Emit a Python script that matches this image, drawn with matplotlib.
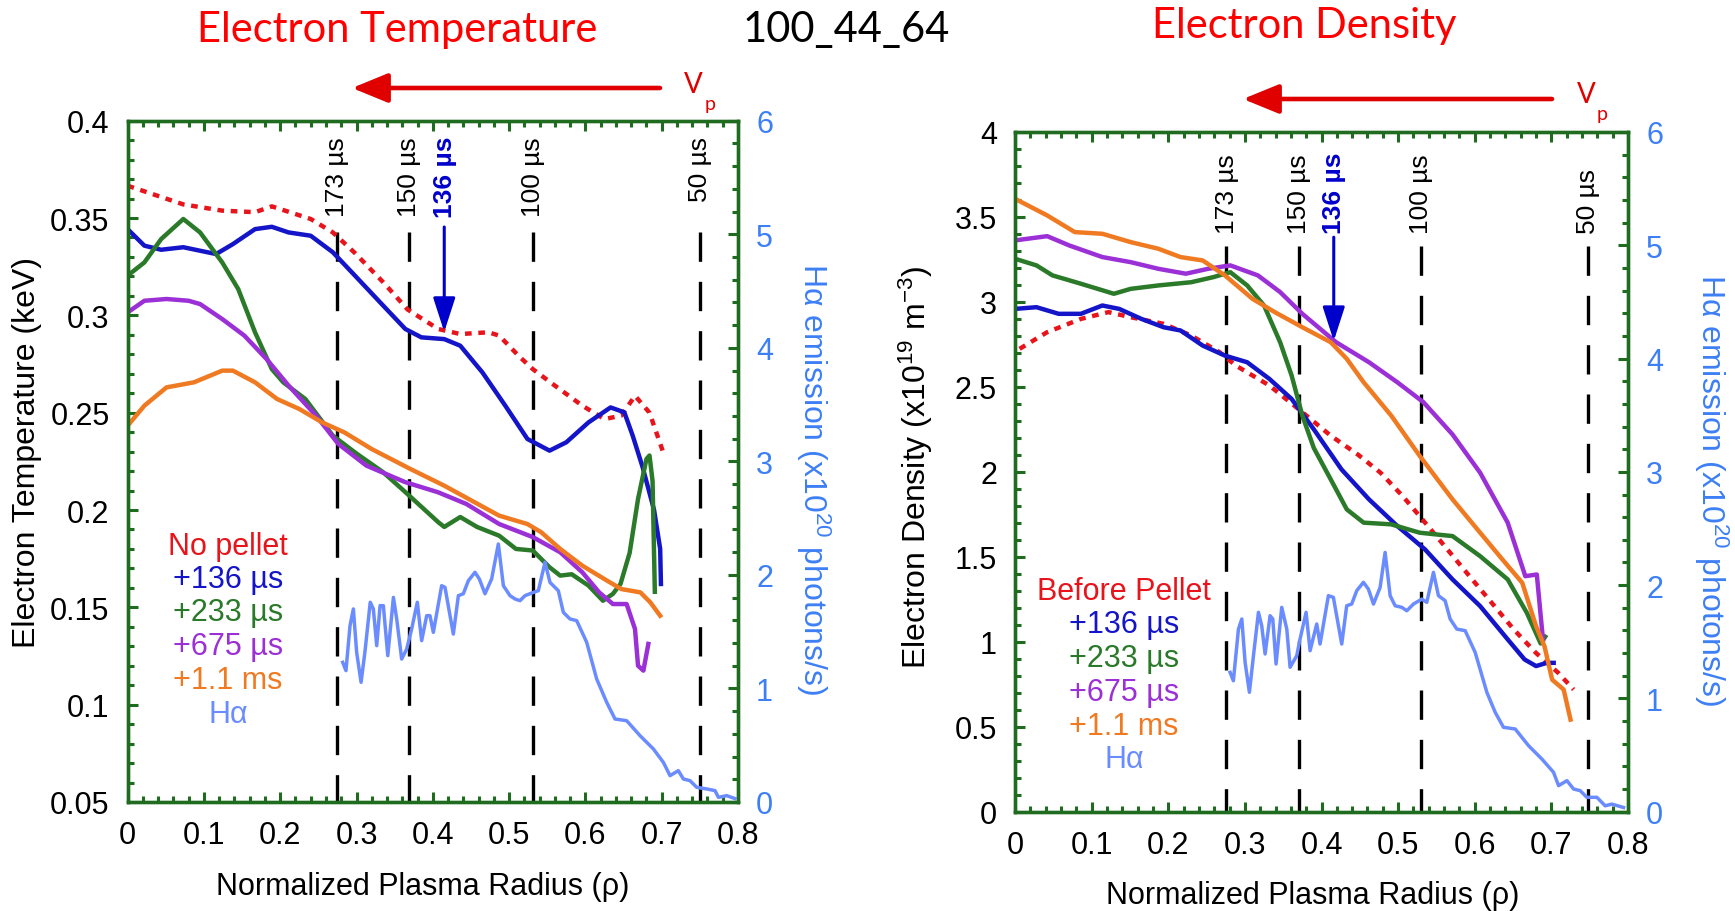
import matplotlib
matplotlib.use("Agg")
import matplotlib.pyplot as plt
from matplotlib.ticker import MultipleLocator

plt.rcParams['font.family'] = ['Liberation Sans', 'DejaVu Sans']
plt.rcParams['mathtext.fontset'] = 'custom'
plt.rcParams['mathtext.rm'] = 'Liberation Sans'
plt.rcParams['mathtext.it'] = 'Liberation Sans:italic'

# ---------------- data : left panel (electron temperature, keV) ----------------
te_nopellet_rho = [0, 0.073, 0.124, 0.167, 0.189, 0.24, 0.269, 0.298, 0.335, 0.367, 0.407, 0.436,
                   0.473, 0.487, 0.513, 0.531, 0.56, 0.596, 0.625, 0.647, 0.665, 0.684, 0.702]
te_nopellet = [0.3666, 0.357, 0.3538, 0.353, 0.356, 0.3495, 0.3426, 0.332, 0.317, 0.303, 0.293, 0.2904,
               0.2913, 0.2896, 0.279, 0.2724, 0.2639, 0.2536, 0.2467, 0.2485, 0.2587, 0.250, 0.2296]

te_136_rho = [0, 0.022, 0.044, 0.073, 0.095, 0.116, 0.138, 0.167, 0.189, 0.211, 0.24, 0.269, 0.298,
              0.335, 0.364, 0.385, 0.415, 0.436, 0.465, 0.495, 0.524, 0.553, 0.575, 0.604, 0.633,
              0.651, 0.662, 0.675, 0.69, 0.698, 0.699]
te_136 = [0.3443, 0.3358, 0.3337, 0.335, 0.3332, 0.3315, 0.3366, 0.3443, 0.3455, 0.3426, 0.3409, 0.3324,
          0.3204, 0.305, 0.293, 0.2887, 0.2878, 0.2844, 0.2707, 0.2536, 0.2365, 0.2305, 0.2348, 0.245,
          0.2527, 0.2502, 0.2382, 0.222, 0.200, 0.18, 0.162]

te_233_rho = [0, 0.022, 0.044, 0.073, 0.095, 0.124, 0.145, 0.167, 0.189, 0.204, 0.233, 0.269, 0.3,
              0.335, 0.364, 0.407, 0.415, 0.436, 0.458, 0.487, 0.509, 0.531, 0.553, 0.567, 0.582,
              0.604, 0.623, 0.636, 0.646, 0.658, 0.669, 0.68, 0.684, 0.688, 0.691]
te_233 = [0.3204, 0.3272, 0.3392, 0.3495, 0.3426, 0.3272, 0.3135, 0.2913, 0.2724, 0.2656, 0.257, 0.2382,
          0.229, 0.2194, 0.2092, 0.1938, 0.1913, 0.1964, 0.1913, 0.1868, 0.18, 0.1792, 0.1706, 0.1663,
          0.167, 0.1612, 0.1534, 0.1569, 0.162, 0.178, 0.2057, 0.2262, 0.228, 0.215, 0.158]

te_675_rho = [0, 0.022, 0.051, 0.08, 0.095, 0.124, 0.153, 0.182, 0.211, 0.247, 0.276, 0.313, 0.364,
              0.407, 0.444, 0.487, 0.531, 0.567, 0.596, 0.618, 0.636, 0.654, 0.665, 0.669, 0.676, 0.6825]
te_675 = [0.3015, 0.3075, 0.3084, 0.3075, 0.3058, 0.2981, 0.2896, 0.2776, 0.2639, 0.2485, 0.234, 0.2228,
          0.2143, 0.2091, 0.2031, 0.1928, 0.1861, 0.1783, 0.168, 0.1577, 0.1517, 0.1517, 0.1389,
          0.12, 0.1175, 0.1312]

te_11ms_rho = [0, 0.022, 0.051, 0.087, 0.124, 0.138, 0.167, 0.196, 0.225, 0.255, 0.284, 0.32, 0.371,
               0.415, 0.451, 0.487, 0.524, 0.542, 0.567, 0.596, 0.625, 0.647, 0.672, 0.685, 0.698]
te_11ms = [0.2433, 0.2536, 0.263, 0.2656, 0.2716, 0.2716, 0.2656, 0.257, 0.2519, 0.245, 0.2399, 0.2313,
           0.221, 0.2125, 0.2048, 0.1971, 0.1928, 0.1886, 0.18, 0.1714, 0.1645, 0.1594, 0.1577,
           0.1526, 0.1457]

ha_te_rho = [0.2819, 0.2862, 0.2915, 0.2959, 0.3002, 0.306, 0.311, 0.318, 0.3221, 0.3265, 0.3309,
             0.3352, 0.341, 0.3484, 0.3527, 0.3592, 0.3658, 0.3723, 0.3797, 0.3854, 0.392, 0.3963,
             0.4007, 0.4116, 0.416, 0.4269, 0.4335, 0.44, 0.4466, 0.4553, 0.461, 0.4684, 0.4771,
             0.4859, 0.4925, 0.5012, 0.5077, 0.5143, 0.5208, 0.5318, 0.5383, 0.5471, 0.5536, 0.5645,
             0.5711, 0.5798, 0.5886, 0.6017, 0.6148, 0.6279, 0.6388, 0.6541, 0.6716, 0.6891, 0.7022,
             0.7109, 0.7218, 0.7284, 0.7371, 0.7459, 0.759, 0.7699, 0.7743, 0.7852, 0.796]
ha_te = [1.230, 1.157, 1.553, 1.70, 1.318, 1.054, 1.318, 1.759, 1.70, 1.377, 1.729, 1.729, 1.289,
         1.802, 1.612, 1.259, 1.347, 1.524, 1.759, 1.421, 1.641, 1.641, 1.494, 1.905, 1.890, 1.479,
         1.817, 1.834, 1.949, 2.023, 1.964, 1.834, 1.964, 2.272, 1.905, 1.817, 1.788, 1.773, 1.817,
         1.846, 1.861, 2.111, 1.934, 1.861, 1.670, 1.612, 1.597, 1.406, 1.083, 0.878, 0.731, 0.716,
         0.584, 0.467, 0.349, 0.232, 0.276, 0.203, 0.188, 0.129, 0.115, 0.100, 0.041, 0.056, 0.030]

# ---------------- data : right panel (electron density, 1e19 m^-3) ----------------
ne_before_rho = [0.006, 0.042, 0.086, 0.122, 0.151, 0.194, 0.23, 0.267, 0.288, 0.332, 0.375, 0.412,
                 0.448, 0.477, 0.506, 0.528, 0.557, 0.593, 0.622, 0.651, 0.68, 0.709, 0.729]
ne_before = [2.724, 2.822, 2.9, 2.94, 2.91, 2.871, 2.802, 2.704, 2.626, 2.508, 2.351, 2.213,
             2.1, 1.995, 1.857, 1.74, 1.583, 1.387, 1.23, 1.072, 0.934, 0.817, 0.719]

ne_136_rho = [0, 0.028, 0.057, 0.086, 0.114, 0.136, 0.165, 0.194, 0.216, 0.245, 0.274, 0.303, 0.332,
              0.361, 0.39, 0.426, 0.462, 0.499, 0.535, 0.571, 0.607, 0.643, 0.665, 0.68, 0.694, 0.703]
ne_136 = [2.959, 2.969, 2.93, 2.93, 2.979, 2.959, 2.9, 2.851, 2.832, 2.743, 2.684, 2.645, 2.547,
          2.429, 2.25, 2.015, 1.838, 1.681, 1.544, 1.367, 1.21, 1.014, 0.896, 0.857, 0.876, 0.876]

ne_233_rho = [0, 0.028, 0.049, 0.086, 0.129, 0.151, 0.187, 0.23, 0.259, 0.281, 0.303, 0.325, 0.346,
              0.361, 0.375, 0.39, 0.412, 0.433, 0.455, 0.491, 0.528, 0.549, 0.571, 0.607, 0.643,
              0.668, 0.686, 0.692]
ne_233 = [3.254, 3.215, 3.156, 3.107, 3.048, 3.077, 3.097, 3.116, 3.146, 3.175, 3.097, 2.979, 2.763,
          2.567, 2.331, 2.14, 1.956, 1.779, 1.701, 1.691, 1.642, 1.632, 1.622, 1.504, 1.367,
          1.170, 0.99, 1.03]

ne_675_rho = [0, 0.042, 0.071, 0.114, 0.151, 0.187, 0.223, 0.252, 0.281, 0.317, 0.346, 0.375, 0.419,
              0.462, 0.499, 0.533, 0.571, 0.607, 0.643, 0.666, 0.681, 0.689]
ne_675 = [3.362, 3.387, 3.332, 3.264, 3.234, 3.195, 3.166, 3.195, 3.215, 3.156, 3.058, 2.93, 2.763,
          2.645, 2.527, 2.41, 2.22, 1.995, 1.701, 1.386, 1.396, 1.013]

ne_11ms_rho = [0, 0.042, 0.078, 0.114, 0.151, 0.187, 0.216, 0.245, 0.274, 0.31, 0.339, 0.375, 0.412,
               0.433, 0.455, 0.491, 0.528, 0.571, 0.607, 0.636, 0.662, 0.68, 0.691, 0.701, 0.716,
               0.725]
ne_11ms = [3.607, 3.509, 3.411, 3.401, 3.352, 3.313, 3.264, 3.244, 3.156, 3.018, 2.94, 2.851, 2.763,
           2.665, 2.527, 2.331, 2.095, 1.838, 1.642, 1.485, 1.347, 1.092, 0.974, 0.777, 0.719,
           0.542]

ha_ne_rho = [0.2807, 0.285, 0.2916, 0.296, 0.3003, 0.3059, 0.3112, 0.3177, 0.322, 0.3264, 0.3329,
             0.3364, 0.3407, 0.3481, 0.3547, 0.359, 0.3677, 0.372, 0.3799, 0.3851, 0.3938, 0.3981,
             0.409, 0.4155, 0.4264, 0.4329, 0.4394, 0.446, 0.4547, 0.4612, 0.4678, 0.4765, 0.483,
             0.4896, 0.4961, 0.5048, 0.5113, 0.52, 0.5309, 0.5374, 0.5461, 0.5526, 0.5613, 0.5679,
             0.5766, 0.5875, 0.6005, 0.6158, 0.6267, 0.6375, 0.6528, 0.6702, 0.6876, 0.7028, 0.7094,
             0.7203, 0.729, 0.7376, 0.7463, 0.7594, 0.7702, 0.7789, 0.7942]
ha_ne = [1.230, 1.156, 1.612, 1.701, 1.318, 1.054, 1.377, 1.760, 1.641, 1.392, 1.730, 1.701, 1.304,
         1.804, 1.612, 1.275, 1.377, 1.524, 1.760, 1.421, 1.657, 1.480, 1.907, 1.892, 1.480, 1.818,
         1.833, 1.951, 2.025, 1.965, 1.833, 1.980, 2.289, 1.907, 1.818, 1.804, 1.774, 1.833, 1.877,
         1.848, 2.113, 1.907, 1.863, 1.701, 1.612, 1.598, 1.407, 1.054, 0.877, 0.745, 0.730, 0.583,
         0.465, 0.348, 0.230, 0.274, 0.200, 0.186, 0.127, 0.127, 0.052, 0.067, 0.037]

# pellet-position markers (time labels and radii)
marker_labels = ['173 µs', '150 µs', '100 µs', '50 µs']
marker_rho_te = [0.275, 0.369, 0.531, 0.750]
marker_rho_ne = [0.276, 0.370, 0.530, 0.748]
arrow_label = '136 µs'
arrow_rho_te, arrow_te = 0.415, 0.2915
arrow_rho_ne, arrow_ne = 0.416, 2.77

series_names_te = ['No pellet', '+136 µs', '+233 µs', '+675 µs', '+1.1 ms', 'Hα']
series_names_ne = ['Before Pellet', '+136 µs', '+233 µs', '+675 µs', '+1.1 ms', 'Hα']

# ---------------- style ----------------
W, H = 1735, 912
C_RED = '#e8141b'
C_BLUE = '#1414c8'
C_GREEN = '#2a7a2a'
C_PURPLE = '#9b30d6'
C_ORANGE = '#f07a22'
C_HA = '#6b8cff'
C_HATXT = '#3d7ff5'
C_SPINE = '#1f6b1f'
LW = 3.2

def fx(x):
    return x / W

def fy(y):
    return 1 - y / H

fig = plt.figure(figsize=(W / 100, H / 100), dpi=100)

def setup_axes(rect, ylim, ymaj, ymin):
    ax = fig.add_axes(rect)
    ax.set_xlim(0, 0.8)
    ax.set_ylim(*ylim)
    ax.xaxis.set_major_locator(MultipleLocator(0.1))
    ax.xaxis.set_minor_locator(MultipleLocator(0.02))
    ax.yaxis.set_major_locator(MultipleLocator(ymaj))
    ax.yaxis.set_minor_locator(MultipleLocator(ymin))
    ax.tick_params(which='both', direction='in', top=True, right=False, color=C_SPINE, width=2.2)
    ax.tick_params(which='major', length=7, labelsize=22, pad=13)
    ax.tick_params(which='minor', length=4)
    ax2 = ax.twinx()
    ax2.set_ylim(0, 6)
    ax2.yaxis.set_major_locator(MultipleLocator(1))
    ax2.yaxis.set_minor_locator(MultipleLocator(0.2))
    ax2.tick_params(which='both', direction='in', color=C_SPINE, width=2.2, labelcolor=C_HATXT)
    ax2.tick_params(which='major', length=7, labelsize=22, pad=13)
    ax2.tick_params(which='minor', length=4)
    for a in (ax, ax2):
        for s in a.spines.values():
            s.set_color(C_SPINE)
            s.set_linewidth(2.4)
    return ax, ax2

def fmt(v, pos):
    return ('%.2f' % v).rstrip('0').rstrip('.')

# ---------------- left panel ----------------
axL, axL2 = setup_axes([fx(127.6), 1 - 803 / H, 610.4 / W, 681.3 / H], (0.05, 0.4), 0.05, 0.01)
axL.xaxis.set_major_formatter(plt.FuncFormatter(fmt))
axL.yaxis.set_major_formatter(plt.FuncFormatter(fmt))

for r in marker_rho_te:
    axL.plot([r, r], [0.343, 0.05], color='black', lw=2.4, ls=(0, (8.8, 6)), zorder=1)
axL.plot(te_nopellet_rho, te_nopellet, color=C_RED, lw=LW, ls=(0, (1.5, 1.5)), zorder=3)
axL.plot(te_136_rho, te_136, color=C_BLUE, lw=LW, zorder=3)
axL.plot(te_233_rho, te_233, color=C_GREEN, lw=LW, zorder=3)
axL.plot(te_675_rho, te_675, color=C_PURPLE, lw=LW, zorder=3)
axL.plot(te_11ms_rho, te_11ms, color=C_ORANGE, lw=LW, zorder=3)
axL2.plot(ha_te_rho, ha_te, color=C_HA, lw=2.5)
axL.annotate('', xy=(arrow_rho_te, arrow_te), xytext=(arrow_rho_te, 0.3454),
             arrowprops=dict(arrowstyle='-|>,head_length=1.05,head_width=0.34', color='#0000cc',
                             lw=2.2, shrinkA=0, shrinkB=0, mutation_scale=20), zorder=4)

# ---------------- right panel ----------------
axR, axR2 = setup_axes([fx(1015), 1 - 812.7 / H, 613 / W, 679.7 / H], (0, 4), 0.5, 0.1)
axR.xaxis.set_major_formatter(plt.FuncFormatter(fmt))
axR.yaxis.set_major_formatter(plt.FuncFormatter(fmt))

for r in marker_rho_ne:
    axR.plot([r, r], [3.33, 0.0], color='black', lw=2.4, ls=(0, (8.8, 6)), zorder=1)
axR.plot(ne_before_rho, ne_before, color=C_RED, lw=LW, ls=(0, (1.5, 1.5)), zorder=3)
axR.plot(ne_136_rho, ne_136, color=C_BLUE, lw=LW, zorder=3)
axR.plot(ne_233_rho, ne_233, color=C_GREEN, lw=LW, zorder=3)
axR.plot(ne_675_rho, ne_675, color=C_PURPLE, lw=LW, zorder=3)
axR.plot(ne_11ms_rho, ne_11ms, color=C_ORANGE, lw=LW, zorder=3)
axR2.plot(ha_ne_rho, ha_ne, color=C_HA, lw=2.5)
axR.annotate('', xy=(arrow_rho_ne, arrow_ne), xytext=(arrow_rho_ne, 3.381),
             arrowprops=dict(arrowstyle='-|>,head_length=1.05,head_width=0.34', color='#0000cc',
                             lw=2.2, shrinkA=0, shrinkB=0, mutation_scale=20), zorder=4)

# ---------------- marker labels ----------------
tr = fig.transFigure
left_label_x = [337, 409, 532.6, 700]
for lab, x in zip(marker_labels, left_label_x):
    fig.text(fx(x), fy(137), lab, rotation=90, ha='center', va='top', fontsize=19, color='black')
fig.text(fx(445), fy(137), arrow_label, rotation=90, ha='center', va='top', fontsize=19,
         color='#0000cc', fontweight='bold')
right_label_x = [1227, 1299, 1421, 1588]
for lab, x in zip(marker_labels, right_label_x):
    fig.text(fx(x), fy(234), lab, rotation=90, ha='center', va='bottom', fontsize=19, color='black')
fig.text(fx(1334), fy(234), arrow_label, rotation=90, ha='center', va='bottom', fontsize=19,
         color='#0000cc', fontweight='bold')

# ---------------- in-plot legends ----------------
leg_colors = [C_RED, C_BLUE, C_GREEN, C_PURPLE, C_ORANGE, C_HA]
for name, col, y in zip(series_names_te, leg_colors, [547, 580, 613, 647, 681, 715]):
    fig.text(fx(228), fy(y), name, ha='center', va='center', fontsize=22, color=col)
for name, col, y in zip(series_names_ne, leg_colors, [592, 625, 659, 693, 727, 760]):
    fig.text(fx(1124), fy(y), name, ha='center', va='center', fontsize=22, color=col)

# ---------------- axis labels ----------------
fig.text(fx(27), fy(453), 'Electron Temperature (keV)', rotation=90, ha='center', va='center',
         fontsize=23)
fig.text(fx(813), fy(479), 'Hα emission (x10$^{20}$ photons/s)', rotation=-90, ha='center',
         va='center', fontsize=23, color=C_HATXT)
fig.text(fx(916), fy(467), 'Electron Density (x10$^{19}$ m$^{-3}$)', rotation=90, ha='center',
         va='center', fontsize=23)
fig.text(fx(1711), fy(490), 'Hα emission (x10$^{20}$ photons/s)', rotation=-90, ha='center',
         va='center', fontsize=23, color=C_HATXT)
fig.text(fx(423), fy(887), 'Normalized Plasma Radius (ρ)', ha='center', va='center', fontsize=22)
fig.text(fx(1313), fy(896), 'Normalized Plasma Radius (ρ)', ha='center', va='center', fontsize=22)

# ---------------- titles ----------------
fig.text(fx(397), fy(42), 'Electron Temperature', ha='center', va='baseline', fontsize=30,
         color='#ff0000', family='Lato')
fig.text(fx(846), fy(42), '100_44_64', ha='center', va='baseline', fontsize=30, color='black',
         family='Lato')
fig.text(fx(1304), fy(38), 'Electron Density', ha='center', va='baseline', fontsize=30,
         color='#ff0000', family='Lato')

# ---------------- pellet velocity arrows ----------------
for x0, x1, y, vx, vy, px, py in [(660, 352, 89, 693, 93, 710, 110), (1552, 1243, 100, 1586, 103, 1602, 120)]:
    fig.add_artist(matplotlib.patches.FancyArrowPatch(
        (fx(x0), fy(y)), (fx(x1), fy(y)), transform=tr,
        arrowstyle='-|>,head_length=1.1,head_width=0.45', mutation_scale=20,
        color='#e00000', lw=3.3, shrinkA=0, shrinkB=0))
    fig.text(fx(vx), fy(vy), 'V', ha='center', va='baseline', fontsize=20, color='#e00000',
             family='Lato')
    fig.text(fx(px), fy(py), 'p', ha='center', va='baseline', fontsize=14, color='#e00000',
             family='Lato')

fig.savefig('out.png', dpi=100)
